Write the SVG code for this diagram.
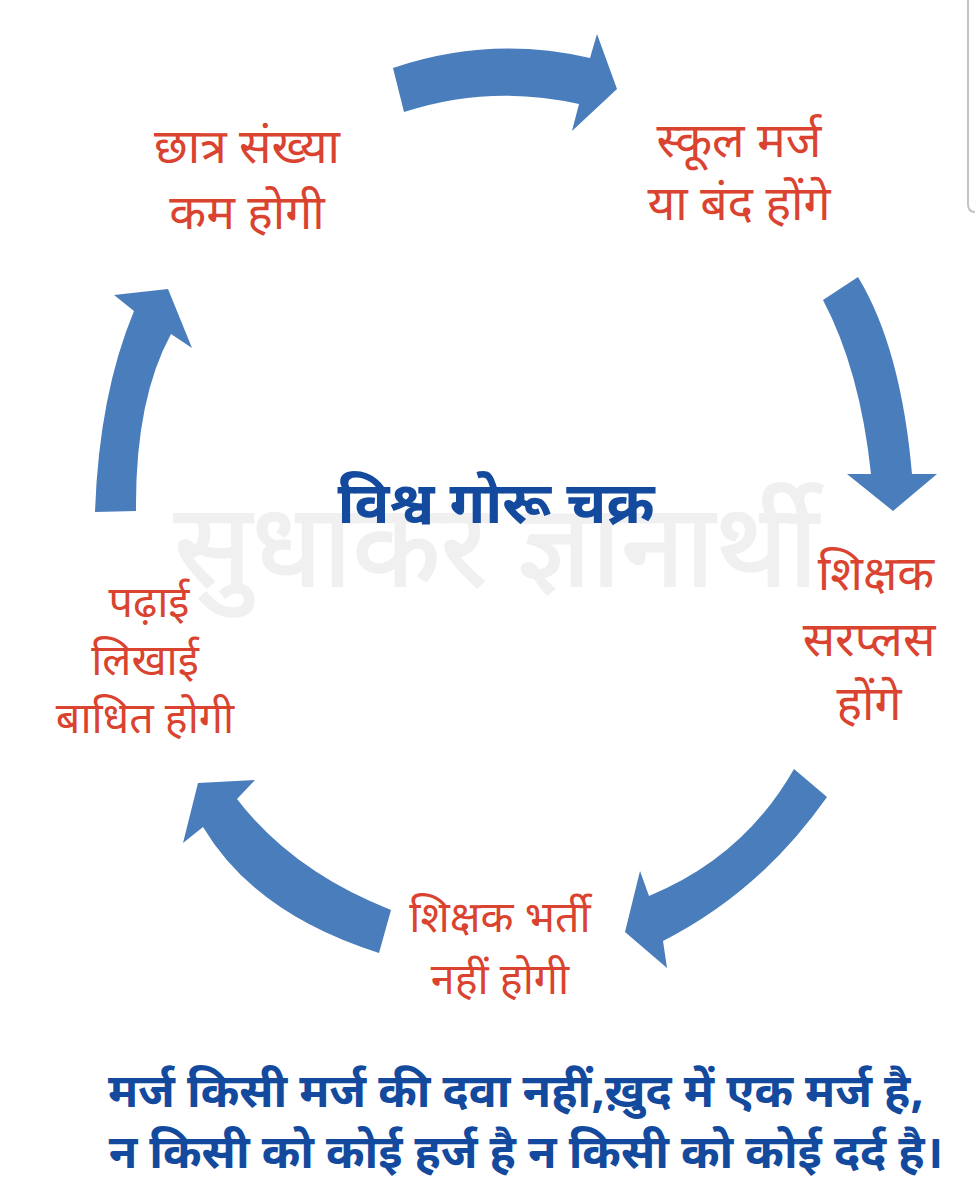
<svg xmlns="http://www.w3.org/2000/svg" width="975" height="1200" viewBox="0 0 975 1200">
<style>
.a{fill:#4a7dbb}
text{text-anchor:middle;font-family:"Noto Sans Devanagari","Noto Sans","Lohit Devanagari","Liberation Sans",sans-serif}
.r{fill:#d9432f;font-size:43px}
.l{font-size:48px}
.b{fill:#134a9e;font-weight:700}
</style>
<rect width="975" height="1200" fill="#fff"/>
<path d="M968 0V204Q968 212 975 212" fill="none" stroke="#c4c4c4" stroke-width="2"/>
<text x="496" y="586" font-size="115" fill="#f0f0f0" stroke="#f0f0f0" stroke-width="2" id="watermark">सुधाकर ज्ञानार्थी</text>
<g id="connectors">
<path class="a" d="M393 68Q490 35 590 58L597 34L617 89L572 131L579 104Q490 84 404 112Z"/>
<path class="a" d="M823 300L858 277Q901 348 912 474H937L893 511L847 474H871Q860 370 823 300Z"/>
<path class="a" d="M794 769L827 797Q761 891 663 941L667 968L625 932L640 871L649 896Q744 857 794 769Z"/>
<path class="a" d="M391 910L379 953Q255 914 203 827L183 843L198 783L255 780L237 799Q292 871 391 910Z"/>
<path class="a" d="M95 512Q99 395 134 311L114 295L168 289L192 348L171 334Q135 400 136 511Z"/>
</g>
<g id="node-top-left" class="r"><text class="l" x="247" y="163">छात्र संख्या</text><text class="l" x="247" y="229">कम होगी</text></g>
<g id="node-top-right" class="r"><text class="l" x="739" y="157">स्कूल मर्ज</text><text class="l" x="739" y="220">या बंद होंगे</text></g>
<g id="node-right" class="r"><text class="l" x="876" y="590">शिक्षक</text><text class="l" x="869" y="656">सरप्लस</text><text class="l" x="869" y="720">होंगे</text></g>
<g id="node-bottom" class="r"><text x="500" y="932">शिक्षक भर्ती</text><text x="500" y="994">नहीं होगी</text></g>
<g id="node-left" class="r"><text x="149" y="617">पढ़ाई</text><text x="145" y="675">लिखाई</text><text x="145" y="733">बाधित होगी</text></g>
<g id="center"><text class="b" x="496" y="523" font-size="58">विश्व गोरू चक्र</text></g>
<g id="caption" class="b" font-size="46.5"><text x="516" y="1107">मर्ज किसी मर्ज की दवा नहीं,ख़ुद में एक मर्ज है,</text><text x="526" y="1168">न किसी को कोई हर्ज है न किसी को कोई दर्द है।</text></g>
</svg>
